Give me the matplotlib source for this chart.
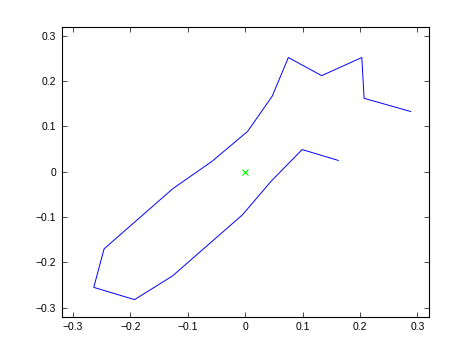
import numpy as np
import matplotlib.pyplot as plt

# contour path
path_x = [0.288, 0.207, 0.203, 0.133, 0.075, 0.047, 0.004, -0.058, -0.126,
          -0.246, -0.264, -0.193, -0.127, -0.005, 0.045, 0.099, 0.162]
path_y = [0.133, 0.162, 0.252, 0.212, 0.252, 0.167, 0.089, 0.023, -0.037,
          -0.170, -0.255, -0.282, -0.230, -0.095, -0.021, 0.049, 0.025]
center_x = [0.0]
center_y = [0.0]

ticks = [-0.3, -0.2, -0.1, 0, 0.1, 0.2, 0.3]

plt.rcParams['font.family'] = ['Liberation Sans', 'DejaVu Sans']

fig = plt.figure(figsize=(4.74, 3.56), dpi=100)
ax = fig.add_axes([0.13, 0.11, 0.775, 0.815])

ax.plot(path_x, path_y, color='#0000ff', linewidth=0.7)
ax.plot(center_x, center_y, 'x', color='#00ff00', markersize=4, markeredgewidth=0.8)

ax.set_xlim(-0.32, 0.32)
ax.set_ylim(-0.32, 0.32)
ax.set_xticks(ticks)
ax.set_yticks(ticks)
ax.set_xticklabels(['\u22120.3', '\u22120.2', '\u22120.1', '0', '0.1', '0.2', '0.3'])
ax.set_yticklabels(['\u22120.3', '\u22120.2', '\u22120.1', '0', '0.1', '0.2', '0.3'])
ax.tick_params(direction='in', top=True, right=True, length=3.5, width=0.5,
               labelsize=7.5, pad=4)
for sp in ax.spines.values():
    sp.set_linewidth(0.8)

plt.savefig('out.png', dpi=100)
